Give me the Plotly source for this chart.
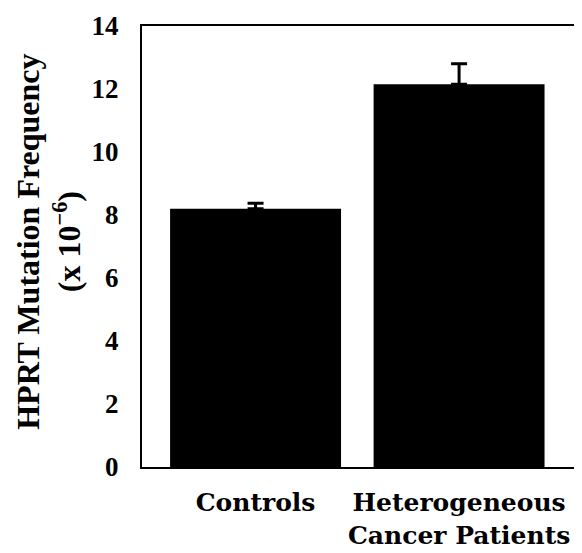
import plotly.graph_objects as go

categories = ["Controls", "Heterogeneous<br>Cancer Patients"]
values = [8.2, 12.15]
errors_plus = [0.17, 0.65]
errors_minus = [0, 0]
y_ticks = [0, 2, 4, 6, 8, 10, 12, 14]

fig = go.Figure()
fig.add_trace(go.Bar(
    x=[0, 1],
    y=values,
    width=0.84,
    marker=dict(color="black", line=dict(width=0)),
    error_y=dict(type="data", array=errors_plus, arrayminus=errors_minus,
                 symmetric=False, color="black", thickness=3, width=8),
))

fig.update_layout(
    width=574, height=545,
    margin=dict(l=134, r=0, t=18, b=86),
    paper_bgcolor="white", plot_bgcolor="white",
    showlegend=False,
    font=dict(family="Liberation Serif", color="black"),
)
fig.update_xaxes(
    range=[-0.558, 1.604],
    tickmode="array", tickvals=[0, 1], ticktext=[f"<b>{c}</b>" for c in categories],
    tickfont=dict(family="DejaVu Serif", size=25, color="black"),
    ticks="", showgrid=False, zeroline=False,
    showline=True, linewidth=2, linecolor="black", mirror=True,
    ticklabelstandoff=12,
)
fig.update_yaxes(
    range=[0, 14],
    tickmode="array", tickvals=y_ticks, ticktext=[f"<b>{t}</b>" for t in y_ticks],
    tickfont=dict(family="Liberation Serif", size=27, color="black"),
    ticks="", showgrid=False, zeroline=False,
    showline=True, linewidth=2, linecolor="black",
    ticklabelstandoff=16,
)
fig.add_annotation(
    text="<b>HPRT Mutation Frequency</b><br><b>(x 10<sup>−6</sup>)</b>",
    xref="paper", yref="paper", x=-0.212, y=0.51,
    xanchor="center", yanchor="middle", textangle=-90, showarrow=False,
    font=dict(family="Liberation Serif", size=32, color="black"),
)

fig.write_html("out.html")
